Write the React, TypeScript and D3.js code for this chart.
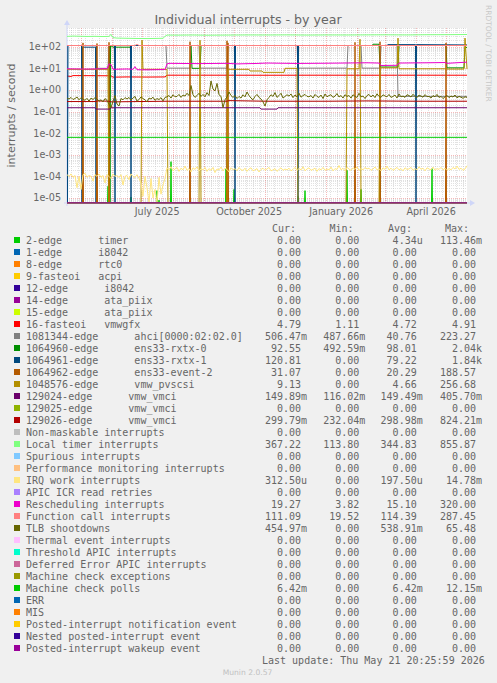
import React from "react";
import * as d3 from "d3";

const START_MS = Date.UTC(2025, 3, 16, 20, 25, 59);
const END_MS = Date.UTC(2026, 4, 21, 20, 25, 59);
const DAY_MS = 86400000;

const titleText = "Individual interrupts - by year";
const yAxisTitle = "interrupts / second";
const yTickValues = [1e2, 1e1, 1, 1e-1, 1e-2, 1e-3, 1e-4, 1e-5];
const yTickLabels = ["1e+02", "1e+01", "1e+00", "1e-01", "1e-02", "1e-03", "1e-04", "1e-05"];
const xTickLabels = ["July 2025", "October 2025", "January 2026", "April 2026"];
const xTickMonths = [Date.UTC(2025, 6, 1), Date.UTC(2025, 9, 1), Date.UTC(2026, 0, 1), Date.UTC(2026, 3, 1)];

const legendLabels = [
  "2-edge      timer", "1-edge      i8042", "8-edge      rtc0", "9-fasteoi   acpi",
  "12-edge      i8042", "14-edge      ata_piix", "15-edge      ata_piix", "16-fasteoi   vmwgfx",
  "1081344-edge      ahci[0000:02:02.0]", "1064960-edge      ens33-rxtx-0", "1064961-edge      ens33-rxtx-1",
  "1064962-edge      ens33-event-2", "1048576-edge      vmw_pvscsi", "129024-edge      vmw_vmci",
  "129025-edge      vmw_vmci", "129026-edge      vmw_vmci", "Non-maskable interrupts", "Local timer interrupts",
  "Spurious interrupts", "Performance monitoring interrupts", "IRQ work interrupts", "APIC ICR read retries",
  "Rescheduling interrupts", "Function call interrupts", "TLB shootdowns", "Thermal event interrupts",
  "Threshold APIC interrupts", "Deferred Error APIC interrupts", "Machine check exceptions", "Machine check polls",
  "ERR", "MIS", "Posted-interrupt notification event", "Nested posted-interrupt event", "Posted-interrupt wakeup event",
];
const legendColors = [
  "#00CC00", "#0066B3", "#FF8000", "#FFCC00", "#330099", "#990099", "#CCFF00", "#FF0000",
  "#808080", "#008F00", "#00487D", "#B35A00", "#B38F00", "#6B006B", "#8FB300", "#B30000",
  "#BEBEBE", "#80FF80", "#80C9FF", "#FFC080", "#FFE680", "#AA80FF", "#EE00CC", "#FF8080",
  "#666600", "#FFBFFF", "#00FFCC", "#CC6699", "#999900", "#00CC00", "#0066B3", "#FF8000",
  "#FFCC00", "#330099", "#990099",
];
const Z = "0.00";
const curVals = [Z, Z, Z, Z, Z, Z, Z, "4.79", "506.47m", "92.55", "120.81", "31.07", "9.13", "149.89m", Z, "299.79m", Z, "367.22", Z, Z, "312.50u", Z, "19.27", "111.09", "454.97m", Z, Z, Z, Z, "6.42m", Z, Z, Z, Z, Z];
const minVals = [Z, Z, Z, Z, Z, Z, Z, "1.11", "487.66m", "492.59m", Z, Z, Z, "116.02m", Z, "232.04m", Z, "113.80", Z, Z, Z, Z, "3.82", "19.52", Z, Z, Z, Z, Z, Z, Z, Z, Z, Z, Z];
const avgVals = ["4.34u", Z, Z, Z, Z, Z, Z, "4.72", "40.76", "98.01", "79.22", "20.29", "4.66", "149.49m", Z, "298.98m", Z, "344.83", Z, Z, "197.50u", Z, "15.10", "114.39", "538.91m", Z, Z, Z, Z, "6.42m", Z, Z, Z, Z, Z];
const maxVals = ["113.46m", Z, Z, Z, Z, Z, Z, "4.91", "223.27", "2.04k", "1.84k", "188.57", "256.68", "405.70m", Z, "824.21m", Z, "855.87", Z, Z, "14.78m", Z, "320.00", "287.45", "65.48", Z, Z, Z, Z, "12.15m", Z, Z, Z, Z, Z];

// day offsets from the graph start
const timerSpikeDays = [41, 64, 90, 92, 104, 159, 167, 231, 238, 280, 294, 313, 365];
const timerSpikeVals = [3.5e-5, 1.1e-5, 2.2e-5, 8e-6, 4.8e-4, 2.3e-4, 2.5e-5, 1.2e-5, 2.2e-5, 1.9e-4, 2.5e-5, 1.7e-4, 2.3e-4];

const vmwgfxDays = [0, 4, 6, 30, 44, 46, 60, 80, 98, 100, 150, 200, 250, 300, 350, 400];
const vmwgfxVals = [4.4, 4.2, 4.6, 4.55, 4.5, 3.9, 4.0, 3.95, 4.0, 4.8, 4.8, 4.78, 4.8, 4.79, 4.8, 4.79];

const ahciDays = [0, 29, 30, 41, 42, 99, 100, 123, 124, 132, 133, 160, 161, 230, 231, 280, 281, 294, 295, 313, 314, 330, 331, 400];
const ahciVals = [113.6, 113.6, 10, 10, 113.6, 113.6, 10.2, 10.2, 113.6, 113.6, 10.2, 10.2, 113.6, 113.6, 10.2, 10.2, 113.6, 113.6, 10.2, 10.2, 113.6, 113.6, 0.5, 0.506];

const rxtx0Days = [0, 42.5, 43, 43.5, 46, 63, 64, 124, 125, 133, 134, 305, 306, 312, 313, 331, 332, 379, 380, 397, 398, 400];
const rxtx0Vals = [113.6, 113.6, 0, 113.6, 95, 95, 113.6, 113.6, 10, 10, 113.6, 113.6, 130, 130, 11.5, 11.5, 113.6, 113.6, 10.5, 10.5, 92.55, 92.55];

const rxtx1Days = [0, 0.5, 1, 14.5, 15, 15.5, 28.5, 29, 29.5, 47.5, 48, 48.5, 63.5, 64, 64.5, 167.5, 168, 168.5, 230.5, 231, 231.5, 320, 321, 348.5, 349, 349.5, 400];
const rxtx1Vals = [113.6, 0, 113.6, 113.6, 0, 95, 95, 0, 113.6, 113.6, 0, 113.6, 113.6, 0, 113.6, 113.6, 0, 113.6, 113.6, 0, 113.6, 113.6, 125, 125, 0, 125, 120.81];

const event2SpikeDays = [16, 30, 42, 123, 160, 161, 288, 313, 379];
const event2SpikeVals = [150, 140, 160, 170, 188, 150, 160, 170, 150];

const pvscsiDays = [0, 41, 42, 74, 75, 76, 100, 101, 132, 133, 134, 160, 161, 182, 183, 195, 196, 217, 218, 230, 231, 279, 280, 292, 293, 294, 312, 313, 330, 331, 332, 379, 380, 397, 398, 400];
const pvscsiVals = [9, 9, 0, 0, 200, 9, 9, 0, 0, 200, 0, 0, 9, 9, 7.5, 7.5, 6.5, 6.5, 10, 10, 0, 0, 9.5, 9.5, 220, 0, 0, 10.5, 10.5, 250, 9.5, 9.5, 9.2, 9.2, 250, 9.13];

const vmci24Days = [0, 28, 29, 43, 44, 193, 194, 210, 211, 400];
const vmci24Vals = [0.15, 0.15, 0.13, 0.13, 0.15, 0.15, 0.13, 0.13, 0.15, 0.15];

const vmci26Days = [0, 29, 30, 42, 44, 100, 160, 162, 200, 260, 300, 350, 400];
const vmci26Vals = [0.29, 0.29, 0.31, 0.3, 0.28, 0.3, 0.3, 0.32, 0.3, 0.3, 0.31, 0.3, 0.3];

const localTimerDays = [0, 6, 12, 20, 28, 36, 42, 44, 46, 50, 60, 70, 80, 90, 96, 98, 100, 110, 125, 140, 160, 180, 200, 220, 240, 260, 280, 300, 320, 340, 360, 380, 400];
const localTimerVals = [300, 310, 305, 298, 302, 295, 300, 370, 262, 250, 245, 240, 238, 242, 245, 300, 345, 342, 348, 340, 345, 350, 348, 352, 345, 350, 348, 352, 355, 350, 358, 360, 367];

// IRQ work, one value every 2 days
const irqWorkVals = [
  1.2e-4, 1.0e-4, 1.3e-4, 0.9e-4, 1.1e-4, 0.3e-4, 1.0e-4, 0.25e-4, 1.2e-4, 1.4e-4, 0.9e-4, 1.1e-4, 1.0e-4, 0.6e-4, 1.2e-4,
  1.0e-4, 1.3e-4, 0.9e-4, 1.1e-4, 0.5e-4, 1.2e-4, 1.0e-4, 0.8e-4, 1.3e-4, 1.0e-4, 1.1e-4, 0.9e-4, 1.2e-4, 0.4e-4, 1.0e-4, 1.1e-4, 0.7e-4, 1.3e-4, 1.0e-4, 0.9e-4, 1.2e-4, 0.8e-4,
  0.5e-4, 0.12e-4, 1.0e-4, 0.3e-4, 0, 0.8e-4, 0.1e-4, 0.25e-4, 0, 0.9e-4, 0.15e-4, 0.4e-4, 0.8e-4,
  2.5e-4, 2.0e-4, 2.8e-4, 1.8e-4, 2.2e-4, 2.6e-4, 1.7e-4, 2.4e-4, 2.0e-4, 3.0e-4, 1.9e-4, 2.3e-4, 1.6e-4, 2.5e-4, 2.1e-4, 2.8e-4, 1.8e-4, 2.2e-4, 2.0e-4, 2.6e-4, 1.7e-4,
  2.3e-4, 1.9e-4, 2.6e-4, 1.5e-4, 2.2e-4, 2.0e-4, 2.7e-4, 1.8e-4, 2.4e-4, 2.1e-4, 1.6e-4, 2.5e-4, 2.0e-4, 2.3e-4, 1.8e-4, 2.6e-4, 2.0e-4, 1.9e-4, 2.4e-4, 1.7e-4,
  2.2e-4, 2.5e-4, 1.8e-4, 2.0e-4, 2.3e-4, 1.6e-4, 2.1e-4, 2.4e-4, 1.9e-4, 2.2e-4, 2.6e-4, 1.8e-4, 2.0e-4, 2.3e-4, 1.7e-4, 2.1e-4, 2.5e-4, 1.9e-4, 2.2e-4, 2.0e-4,
  2.4e-4, 1.8e-4, 2.1e-4, 2.6e-4, 1.9e-4, 2.3e-4, 2.0e-4, 2.8e-4, 1.8e-4, 2.2e-4, 2.5e-4, 1.9e-4, 2.1e-4, 2.4e-4, 1.7e-4, 2.3e-4, 2.0e-4, 2.6e-4, 1.9e-4, 2.2e-4,
  2.0e-4, 2.7e-4, 1.8e-4, 2.3e-4, 2.1e-4, 3.2e-4, 2.0e-4, 2.4e-4, 1.8e-4, 2.6e-4, 2.2e-4, 1.9e-4, 2.5e-4, 2.1e-4, 2.8e-4, 1.9e-4, 2.3e-4, 2.0e-4, 2.6e-4, 2.2e-4,
  2.4e-4, 1.9e-4, 2.2e-4, 2.7e-4, 2.0e-4, 2.3e-4, 1.8e-4, 2.5e-4, 2.1e-4, 3.0e-4, 2.0e-4, 2.4e-4, 1.9e-4, 2.2e-4, 2.6e-4, 2.0e-4, 2.3e-4, 1.8e-4, 2.5e-4, 2.1e-4,
  2.2e-4, 2.6e-4, 1.9e-4, 2.3e-4, 2.0e-4, 2.8e-4, 2.1e-4, 2.4e-4, 1.8e-4, 2.5e-4, 2.2e-4, 2.0e-4, 2.7e-4, 1.9e-4, 2.3e-4, 2.1e-4, 2.6e-4, 2.0e-4, 2.4e-4, 1.9e-4,
  2.3e-4, 2.0e-4, 2.6e-4, 2.2e-4, 3.0e-4, 2.1e-4, 2.4e-4, 1.9e-4, 2.2e-4, 3.1e-4,
];

const reschedDays = [0, 20, 40, 42, 44, 46, 60, 66, 68, 70, 80, 98, 100, 102, 130, 160, 170, 190, 200, 230, 260, 290, 300, 312, 314, 330, 332, 360, 378, 380, 400];
const reschedVals = [9.5, 9.2, 9.6, 16, 15, 9.0, 9.3, 9.0, 12, 8.6, 8.5, 8.8, 16, 17, 16.5, 17, 16, 16.8, 17.5, 16.8, 17.2, 17.8, 18, 17.5, 13.5, 13.8, 17.5, 18, 18.5, 17, 19.27];

const funcCallDays = [0, 30, 60, 68, 70, 72, 74, 100, 150, 200, 250, 300, 350, 400];
const funcCallVals = [113.6, 113.6, 113.6, 113.6, 128, 113.6, 113.6, 113.6, 113.6, 113.6, 113.6, 113.6, 113.6, 113.6];

// TLB shootdowns, one value every 2 days
const tlbVals = [
  0.42, 0.38, 0.45, 0.36, 0.40, 0.47, 0.35, 0.44, 0.38, 0.33, 0.41, 0.30, 0.42, 0.36, 0.44, 0.39, 0.30, 0.35, 0.28, 0.40, 0.33, 0.22,
  0.15, 0.30, 0.55, 0.22, 0.18, 0.40, 0.35, 0.44, 0.38,
  0.45, 0.34, 0.42, 0.50, 0.30, 0.36, 0.48, 0.40, 0.35, 0.28, 0.42, 0.38, 0.46, 0.33, 0.40, 0.36, 0.44, 0.31, 0.45,
  0.48, 0.55, 0.42, 0.60, 0.48, 0.50, 0.62, 0.45, 0.58, 0.52, 0.70, 0.55,
  1.6, 0.60,
  0.45, 0.55, 0.70, 0.50, 0.62, 0.48, 0.75, 0.55,
  2.6, 1.1, 0.90, 2.0, 0.60, 0.50, 0.15, 0.35, 0.48, 0.80, 0.55,
  0.45, 0.55, 0.40, 0.50, 0.42, 0.60, 0.48, 0.80, 0.55, 0.42, 0.35, 0.50, 0.62, 0.45, 0.38, 0.28, 0.18, 0.35,
  0.45, 0.60, 0.50, 0.75, 0.45, 0.55, 0.70, 0.42, 0.50, 0.60, 0.52, 0.65, 0.44, 0.58, 0.48, 0.70, 0.46, 0.55, 0.62, 0.50,
  0.48, 0.55, 0.42, 0.62, 0.50, 0.45, 0.58, 0.40, 0.65, 0.48, 0.55, 0.60, 0.45, 0.52, 0.68, 0.47, 0.55, 0.42, 0.60, 0.50,
  0.55, 0.42, 0.60, 0.50, 0.45, 0.70, 0.48, 0.52, 0.40, 0.55, 0.62, 0.47, 0.58, 0.44, 0.66, 0.50, 0.45, 0.60, 0.52, 0.48,
  0.62, 0.45, 0.50, 0.58, 0.42, 0.65, 0.48, 0.52, 0.45, 0.60, 0.55, 0.47, 0.63, 0.50, 0.44, 0.58, 0.52, 0.46, 0.61, 0.49,
  0.50, 0.42, 0.55, 0.48, 0.62, 0.45, 0.50, 0.40, 0.48, 0.56, 0.44, 0.52, 0.47, 0.58, 0.43, 0.50, 0.46, 0.41, 0.48, 0.45,
];

const mcPollDays = [0, 400];
const mcPollVals = [0.00642, 0.00642];

type Pt = [number, number];
const zip = (days: number[], vals: number[]): Pt[] => days.map((d, i) => [d, vals[i]] as Pt);
const every2 = (vals: number[]): Pt[] => vals.map((v, i) => [i * 2, v] as Pt);
const spikes = (days: number[], vals: number[]): Pt[] => {
  const pts: Pt[] = [[0, 0]];
  days.forEach((d, i) => pts.push([d - 0.5, 0], [d, vals[i]], [d + 0.5, 0]));
  pts.push([400, 0]);
  return pts;
};
const zeros: Pt[] = [[0, 0], [400, 0]];

const seriesPoints: Pt[][] = [
  spikes(timerSpikeDays, timerSpikeVals), zeros, zeros, zeros, zeros, zeros, zeros,
  zip(vmwgfxDays, vmwgfxVals), zip(ahciDays, ahciVals), zip(rxtx0Days, rxtx0Vals), zip(rxtx1Days, rxtx1Vals),
  spikes(event2SpikeDays, event2SpikeVals), zip(pvscsiDays, pvscsiVals), zip(vmci24Days, vmci24Vals), zeros,
  zip(vmci26Days, vmci26Vals), zeros, zip(localTimerDays, localTimerVals), zeros, zeros, every2(irqWorkVals), zeros,
  zip(reschedDays, reschedVals), zip(funcCallDays, funcCallVals), every2(tlbVals), zeros, zeros, zeros, zeros,
  zip(mcPollDays, mcPollVals), zeros, zeros, zeros, zeros, zeros,
];

export default function App() {
  const W = 497, H = 683;
  const L = 67, R = 467, T = 28, B = 203;
  const x = d3.scaleUtc().domain([new Date(START_MS), new Date(END_MS)]).range([L, R]);
  const y = d3.scaleLog().domain([5.87e-6, 733]).range([B, T]).clamp(true);
  const yv = (v: number) => (v > 0 ? y(v) : B);
  const line = d3.line<Pt>().x((p) => x(new Date(START_MS + p[0] * DAY_MS))).y((p) => yv(p[1]));

  const font = "DejaVu Sans, sans-serif";
  const mono = "DejaVu Sans Mono, monospace";
  const textCol = "#666666";

  const minorH: number[] = [];
  const majorH: number[] = [];
  for (let n = -6; n <= 2; n++) {
    for (let k = 1; k <= 9; k++) {
      const v = k * Math.pow(10, n);
      if (v < 5.87e-6 || v > 733) continue;
      const py = y(v);
      if (k === 1) majorH.push(Math.round(py) + 0.5);
      else minorH.push(Math.round(py) + 0.5);
    }
  }
  const weeks = d3.utcMonday.range(new Date(START_MS), new Date(END_MS)).map((d) => Math.round(x(d)) + 0.5);
  const months = d3.utcMonth.range(new Date(START_MS), new Date(END_MS)).map((d) => Math.round(x(d)) + 0.5);

  const cw = 6.02;
  const colRight = [301, 359.3, 416.7, 476];
  const hdrX = [272, 329.5, 388, 445];
  const hdr = ["Cur:", "Min:", "Avg:", "Max:"];
  const axisCol = "#CFD6F8";
  const minorCol = "rgba(180,180,180,0.38)";
  const majorCol = "rgba(230,90,90,0.42)";

  return (
    <svg width={W} height={H} style={{ position: "absolute", left: 0, top: 0 }}>
      <defs>
        <clipPath id="plotclip">
          <rect x={L} y={T - 1} width={R - L + 1} height={B - T + 1.5} />
        </clipPath>
      </defs>
      <rect x={0} y={0} width={W} height={H} fill="#F0F0F0" />
      <rect x={L} y={T} width={R - L} height={B - T} fill="#FFFFFF" />
      <g strokeWidth={1} shapeRendering="crispEdges">
        {minorH.map((py, i) => (
          <line key={"mh" + i} x1={L} x2={R} y1={py} y2={py} stroke={minorCol} strokeDasharray="1,1" />
        ))}
        {weeks.map((px, i) => (
          <line key={"mv" + i} x1={px} x2={px} y1={T} y2={B} stroke={minorCol} strokeDasharray="1,1" />
        ))}
        {majorH.map((py, i) => (
          <line key={"Mh" + i} x1={L} x2={R} y1={py} y2={py} stroke={majorCol} strokeDasharray="1,1" />
        ))}
        {months.map((px, i) => (
          <line key={"Mv" + i} x1={px} x2={px} y1={T} y2={B} stroke={majorCol} strokeDasharray="1,1" />
        ))}
      </g>
      <line x1={L - 3} x2={R + 3} y1={B} y2={B} stroke={axisCol} />
      <path d={`M${R + 3},${B - 3} L${R + 8},${B} L${R + 3},${B + 3} Z`} fill={axisCol} />
      <line x1={L} x2={L} y1={B + 3} y2={T - 3} stroke={axisCol} />
      <path d={`M${L - 3},${T - 3} L${L},${T - 8} L${L + 3},${T - 3} Z`} fill={axisCol} />
      <g clipPath="url(#plotclip)" fill="none" strokeWidth={1}>
        {seriesPoints.map((pts, i) => (
          <path key={"s" + i} d={line(pts) || ""} stroke={legendColors[i]} />
        ))}
      </g>
      {yTickValues.map((v, i) => (
        <text key={"yt" + i} x={61} y={y(v) + 3.5} textAnchor="end" fontFamily={font} fontSize={9.6} fill={textCol}>
          {yTickLabels[i]}
        </text>
      ))}
      {xTickMonths.map((m, i) => (
        <text key={"xt" + i} x={x(new Date(m + 15 * DAY_MS))} y={215} textAnchor="middle" fontFamily={font} fontSize={9.6} fill={textCol}>
          {xTickLabels[i]}
        </text>
      ))}
      <text x={248} y={24} textAnchor="middle" fontFamily={font} fontSize={12.6} fill={textCol}>
        {titleText}
      </text>
      <text transform={`translate(14.5, 115.5) rotate(-90)`} textAnchor="middle" fontFamily={font} fontSize={11} fill={textCol}>
        {yAxisTitle}
      </text>
      <text transform="translate(486, 5) rotate(90)" fontFamily={font} fontSize={7.5} fill="#C8C8C8">
        RRDTOOL / TOBI OETIKER
      </text>
      {hdr.map((h, j) => (
        <text key={"h" + j} x={hdrX[j]} y={231.5} fontFamily={mono} fontSize={10} fill={textCol}>
          {h}
        </text>
      ))}
      {legendLabels.map((lab, i) => {
        const by = 243.5 + 12 * i;
        const vals = [curVals[i], minVals[i], avgVals[i], maxVals[i]];
        return (
          <g key={"lg" + i}>
            <rect x={14} y={by - 6.5} width={6} height={6} fill={legendColors[i]} />
            <text x={26} y={by} fontFamily={mono} fontSize={10} fill={textCol} xmlSpace="preserve" style={{ whiteSpace: "pre" }}>
              {lab}
            </text>
            {vals.map((s, j) => {
              const hasSuffix = /[a-zA-Z]$/.test(s);
              const numLen = s.length - (hasSuffix ? 1 : 0);
              return (
                <text key={j} x={colRight[j] - numLen * cw} y={by} fontFamily={mono} fontSize={10} fill={textCol}>
                  {s}
                </text>
              );
            })}
          </g>
        );
      })}
      <text x={262} y={663.5} fontFamily={mono} fontSize={10} fill={textCol} xmlSpace="preserve" style={{ whiteSpace: "pre" }}>
        Last update: Thu May 21 20:25:59 2026
      </text>
      <text x={247.5} y={675} textAnchor="middle" fontFamily={font} fontSize={7.6} fill="#C0C0C0">
        Munin 2.0.57
      </text>
    </svg>
  );
}
